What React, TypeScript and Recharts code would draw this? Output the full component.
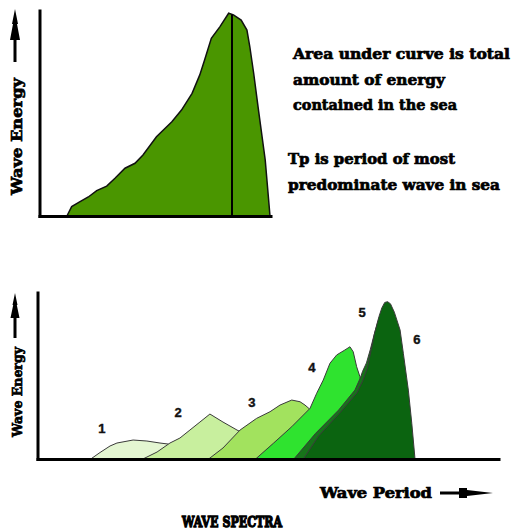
import React from 'react';
import { AreaChart, Area, XAxis, YAxis, ReferenceLine, ReferenceDot } from 'recharts';

// ---------- Top chart: a single wave spectrum ----------
const TOP_PERIOD = [2.77, 3.29, 4.16, 5.02, 5.89, 6.93, 7.79, 8.83, 9.87, 10.7, 12.1, 13.7, 14.7, 15.8, 16.6, 17.1, 17.8, 18.7, 19.6, 20.1, 20.9, 21.5, 21.8, 22.2, 22.7, 23.4, 23.9];
const TOP_ENERGY = [0, 4.8, 7.2, 9.5, 12.6, 14.8, 18.6, 23.5, 25.9, 29.9, 38.8, 46.1, 51.8, 59.9, 68.9, 76.2, 86.7, 92.4, 98.9, 98.1, 95.6, 90.7, 82.6, 69.7, 51.8, 27.5, 0];
const TP_PERIOD = 19.95;
const TP_ENERGY = 98.3;

// ---------- Bottom chart: six developing spectra ----------
const S1_PERIOD = [2.71, 3.23, 3.75, 4.11, 4.95, 5.67, 6.35, 6.77, 7.5, 8.1];
const S1_ENERGY = [0, 4.2, 8.1, 9.9, 11.7, 11.1, 9.9, 9.3, 5, 0];
const S2_PERIOD = [5.41, 6.2, 6.87, 7.39, 7.91, 8.43, 8.95, 9.63, 10.36, 10.67, 11.3, 11.8];
const S2_ENERGY = [0, 4.5, 9.9, 12.9, 17.7, 22.5, 27.3, 22.5, 17.7, 15.9, 8.7, 0];
const S3_PERIOD = [8.85, 9.63, 10.52, 11.38, 12.08, 12.6, 13.21, 13.64, 13.9, 14.16, 14.58, 14.94];
const S3_ENERGY = [0, 6.9, 17.7, 24.7, 28.7, 32.7, 35.7, 34.7, 32.7, 30.1, 17.7, 0];
const S4_PERIOD = [11.3, 12.25, 13.21, 14.16, 14.51, 14.85, 15.2, 15.55, 15.98, 16.24, 16.41, 16.59, 16.76, 17.0, 17.4, 17.7];
const S4_ENERGY = [0, 9.7, 19.7, 30.7, 39.8, 47.7, 57.8, 62.8, 65.8, 67.7, 64.7, 55.7, 49.7, 35.7, 17.7, 0];
const S5_PERIOD = [13.3, 14.45, 15.65, 16.5, 16.78, 16.9, 17.1, 17.3, 17.5, 17.7, 17.9, 18.1, 18.4, 18.8, 19.2, 19.5];
const S5_ENERGY = [0, 15.7, 29.7, 41.7, 49, 53, 58, 66, 75, 83, 88, 90, 86, 70, 30, 0];
const S6_PERIOD = [13.8, 14.6, 15.75, 16.6, 16.9, 17.15, 17.35, 17.52, 17.75, 17.9, 18.05, 18.2, 18.35, 18.55, 18.85, 19.02, 19.28, 19.46, 19.63];
const S6_ENERGY = [0, 14, 28.5, 40, 47, 55, 66, 75.8, 85.8, 91, 94.3, 94.8, 93.5, 88.5, 77.8, 63.8, 41.7, 21.7, 0];

const SPECTRUM_LABELS = ['1', '2', '3', '4', '5', '6'];
const LABEL_PERIOD = [3.33, 7.29, 11.14, 14.26, 16.87, 19.73];
const LABEL_ENERGY = [18.9, 28.5, 34.5, 55, 88, 71.8];

const TOP_NOTES = ['Area under curve is total', 'amount of energy', 'contained in the sea', 'Tp is period of most', 'predominate wave in sea'];
const Y_LABEL = 'Wave Energy';
const X_LABEL = 'Wave Period';
const TITLE = 'WAVE SPECTRA';

const zip = (p: number[], e: number[]) => p.map((v, i) => ({ p: v, e: e[i] }));

const TOP_DATA = zip(TOP_PERIOD, TOP_ENERGY);
const SERIES = [
  { data: zip(S1_PERIOD, S1_ENERGY), fill: '#e4f6d2' },
  { data: zip(S2_PERIOD, S2_ENERGY), fill: '#c8ef9e' },
  { data: zip(S3_PERIOD, S3_ENERGY), fill: '#a2e25e' },
  { data: zip(S4_PERIOD, S4_ENERGY), fill: '#2fe32f' },
  { data: zip(S5_PERIOD, S5_ENERGY), fill: '#17731a' },
  { data: zip(S6_PERIOD, S6_ENERGY), fill: '#0b6410' },
];

const SERIF = '"DejaVu Serif", "Liberation Serif", serif';
const axisLineStyle = { stroke: '#000', strokeWidth: 3, strokeLinecap: 'square' as const };

const numLabel = (text: string) => (props: any) => {
  const vb = props.viewBox || {};
  const x = (vb.x ?? 0) + (vb.width ?? 0) / 2;
  const y = (vb.y ?? 0) + (vb.height ?? 0) / 2;
  return (
    <text x={x} y={y} textAnchor="middle" dominantBaseline="central" fontFamily='"Liberation Sans", Arial, sans-serif' fontWeight={700} fontSize={13} fill="#111" stroke="#111" strokeWidth={0.4}>
      {text}
    </text>
  );
};

export default function App() {
  return (
    <div style={{ position: 'absolute', left: 0, top: 0, width: 512, height: 531, background: '#fff' }}>
      <div style={{ position: 'absolute', left: 0, top: 0 }}>
        <AreaChart width={512} height={230} data={TOP_DATA} margin={{ top: 11, right: 241, bottom: 12.5, left: 39 }}>
          <XAxis dataKey="p" type="number" domain={[0, 24]} height={1} tick={false} tickLine={false} axisLine={axisLineStyle} />
          <YAxis type="number" domain={[0, 100]} width={1} tick={false} tickLine={false} axisLine={axisLineStyle} />
          <Area type="linear" dataKey="e" fill="#4a9600" fillOpacity={1} stroke="#111" strokeWidth={1.5} dot={false} activeDot={false} isAnimationActive={false} />
          <ReferenceLine segment={[{ x: TP_PERIOD, y: 0 }, { x: TP_PERIOD, y: TP_ENERGY }]} stroke="#000" strokeWidth={2} />
        </AreaChart>
      </div>
      <div style={{ position: 'absolute', left: 0, top: 280 }}>
        <AreaChart width={512} height={200} margin={{ top: 13, right: 13, bottom: 19.5, left: 37 }}>
          <XAxis dataKey="p" type="number" domain={[0, 24]} height={1} tick={false} tickLine={false} axisLine={axisLineStyle} allowDuplicatedCategory={false} />
          <YAxis type="number" domain={[0, 100]} width={1} tick={false} tickLine={false} axisLine={axisLineStyle} />
          {SERIES.map((s, i) => (
            <Area key={i} data={s.data} type="linear" dataKey="e" fill={s.fill} fillOpacity={1} stroke="#3a3a3a" strokeWidth={1} dot={false} activeDot={false} isAnimationActive={false} />
          ))}
          {SPECTRUM_LABELS.map((t, i) => (
            <ReferenceDot key={t} x={LABEL_PERIOD[i]} y={LABEL_ENERGY[i]} r={0} fill="none" stroke="none" label={{ content: numLabel(t) } as any} />
          ))}
        </AreaChart>
      </div>
      <svg width={512} height={531} style={{ position: 'absolute', left: 0, top: 0, pointerEvents: 'none' }}>
        <g fontFamily={SERIF} fontWeight={700} fill="#000" stroke="#000" strokeWidth={0.7}>
          <text x={293} y={59} fontSize={15} textLength={217} lengthAdjust="spacingAndGlyphs">{TOP_NOTES[0]}</text>
          <text x={293} y={85} fontSize={15} textLength={152} lengthAdjust="spacingAndGlyphs">{TOP_NOTES[1]}</text>
          <text x={293} y={110} fontSize={15} textLength={164} lengthAdjust="spacingAndGlyphs">{TOP_NOTES[2]}</text>
          <text x={288} y={164} fontSize={15} textLength={167} lengthAdjust="spacingAndGlyphs">{TOP_NOTES[3]}</text>
          <text x={288} y={190} fontSize={15} textLength={212} lengthAdjust="spacingAndGlyphs">{TOP_NOTES[4]}</text>
          <text transform="translate(22,136.5) rotate(-90)" textAnchor="middle" fontSize={15} textLength={117} lengthAdjust="spacingAndGlyphs">{Y_LABEL}</text>
          <text transform="translate(22,392) rotate(-90)" textAnchor="middle" fontSize={13} textLength={90} lengthAdjust="spacingAndGlyphs">{Y_LABEL}</text>
          <text x={320} y={498} fontSize={14} textLength={112} lengthAdjust="spacingAndGlyphs">{X_LABEL}</text>
          <text x={182} y={527} fontSize={15} textLength={100} lengthAdjust="spacingAndGlyphs" strokeWidth={1.3}>{TITLE}</text>
        </g>
        <polygon fill="#000" points="15,9 18,24 17,24 20,40 16.5,40 16.5,62 13.5,62 13.5,40 10,40 13,24 12,24" />
        <polygon fill="#000" points="15,293 17.5,305 16.8,305 19.5,318 16.5,318 16.5,338 13.5,338 13.5,318 10.5,318 13.2,305 12.5,305" />
        <rect x={440} y={491.5} width={22} height={3} fill="#000" />
        <polygon fill="#000" points="459,488 467,488 467,490 493,493 467,496 467,498 459,498" />
      </svg>
    </div>
  );
}
